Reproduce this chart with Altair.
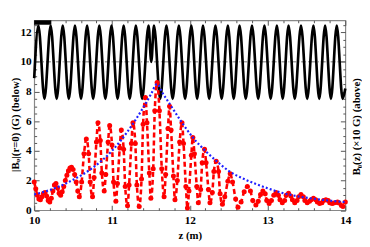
import altair as alt
import pandas as pd

# ---------------- data ----------------
# black: B0(z) (x10 G), extrema of the guide field
black_z = [10.000, 10.054, 10.132, 10.211, 10.289, 10.367, 10.445, 10.524, 10.602, 10.680,
           10.758, 10.837, 10.915, 10.994, 11.072, 11.150, 11.228, 11.307, 11.388, 11.470,
           11.505, 11.540, 11.620, 11.700, 11.780, 11.860, 11.940, 12.020, 12.095, 12.170,
           12.250, 12.330, 12.410, 12.490, 12.565, 12.640, 12.720, 12.800, 12.880, 12.960,
           13.040, 13.120, 13.195, 13.270, 13.350, 13.430, 13.510, 13.590, 13.665, 13.740,
           13.815, 13.890, 13.965, 14.000]
black_b = [8.9, 12.45, 7.5, 12.45, 7.5, 12.45, 7.5, 12.45, 7.5, 12.45,
           7.5, 12.45, 7.5, 12.45, 7.5, 12.45, 7.5, 12.45, 7.5, 12.45,
           10.0, 12.45, 7.5, 12.45, 7.5, 12.45, 7.5, 12.45, 7.5, 12.45,
           7.5, 12.45, 7.5, 12.45, 7.5, 12.45, 7.5, 12.45, 7.5, 12.45,
           7.5, 12.45, 7.5, 12.45, 7.5, 12.45, 7.5, 12.45, 7.5, 12.45,
           7.5, 12.45, 7.5, 8.2]

# red: |B_phi|(r=0) (G), sampled points
red_z = [10.00, 10.02, 10.04, 10.06, 10.08, 10.10, 10.12, 10.14, 10.16, 10.18,
         10.20, 10.22, 10.24, 10.26, 10.28, 10.30, 10.32, 10.34, 10.36, 10.38,
         10.40, 10.42, 10.44, 10.46, 10.48, 10.50, 10.52, 10.54, 10.56,
         10.58, 10.61, 10.64, 10.67, 10.70, 10.72, 10.75, 10.77, 10.80, 10.82,
         10.85, 10.87, 10.90, 10.92, 10.95, 10.97, 11.00, 11.02, 11.05, 11.07,
         11.10, 11.12, 11.15, 11.17, 11.20, 11.22, 11.25, 11.27, 11.30, 11.32,
         11.35, 11.38, 11.40, 11.43, 11.45, 11.48, 11.50, 11.53, 11.55, 11.58,
         11.61, 11.64, 11.67, 11.69, 11.72, 11.74, 11.76, 11.79, 11.81, 11.84,
         11.87, 11.90, 11.92, 11.95, 11.97, 11.99, 12.02, 12.04, 12.06, 12.09,
         12.11, 12.14, 12.16, 12.19, 12.21, 12.24, 12.26, 12.29, 12.31, 12.34,
         12.37, 12.39, 12.42, 12.45, 12.49, 12.52, 12.55, 12.59, 12.62, 12.66,
         12.70,
         12.74, 12.78, 12.81, 12.85, 12.88, 12.91, 12.94, 12.97, 12.99, 13.02,
         13.05, 13.08, 13.11, 13.14, 13.16, 13.19, 13.22, 13.24, 13.27, 13.30,
         13.32, 13.35, 13.38, 13.40, 13.43, 13.46, 13.48, 13.51, 13.54, 13.56,
         13.59, 13.62, 13.64, 13.67, 13.70, 13.72, 13.75, 13.78, 13.80, 13.83,
         13.85, 13.88, 13.90, 13.92, 13.95, 13.97, 14.00]
red_b = [1.9, 1.45, 1.0, 0.75, 0.7, 0.9, 1.15, 1.2, 0.95, 0.65,
         0.55, 0.8, 1.3, 1.7, 1.8, 1.5, 1.15, 1.0, 1.25, 1.6,
         2.0, 2.35, 2.65, 2.85, 2.9, 2.75, 2.4, 1.9, 1.3,
         0.9, 1.9, 3.8, 4.8, 3.8, 1.9, 0.9, 2.2, 4.6, 5.9,
         4.7, 2.5, 1.3, 2.4, 4.6, 5.7, 4.4, 1.9, 0.6, 1.8,
         4.2, 5.4, 4.1, 1.6, 0.3, 1.7, 4.5, 5.9, 4.5, 1.7,
         0.25, 2.1, 5.8, 7.6, 5.9, 2.5, 0.8, 2.8, 6.7, 8.6,
         6.7, 2.8, 0.9, 2.4, 5.5, 7.0, 5.4, 2.3, 0.7, 2.0,
         4.6, 5.9, 4.5, 1.6, 0.15, 1.3, 3.7, 4.9, 3.8, 1.6,
         0.5, 1.4, 3.2, 4.1, 3.2, 1.4, 0.5, 1.2, 2.6, 3.3,
         2.6, 1.1, 0.4, 0.9, 1.95, 2.45, 1.9, 0.75, 0.2, 0.55,
         1.25,
         1.6, 1.3, 0.65, 0.35, 0.6, 1.05, 1.3, 1.1, 0.65, 0.45,
         0.65, 1.0, 1.2, 1.0, 0.7, 0.5, 0.65, 1.0, 1.15, 0.95,
         0.7, 0.5, 0.65, 0.9, 1.05, 0.9, 0.65, 0.5, 0.6, 0.7,
         0.8, 0.7, 0.55, 0.45, 0.5, 0.65, 0.7, 0.65, 0.5, 0.45,
         0.48, 0.52, 0.55, 0.48, 0.32, 0.25, 0.55]

# blue: envelope
blue_z = [10.0, 10.25, 10.5, 10.75, 11.0, 11.2, 11.4, 11.5, 11.58, 11.65, 11.75, 11.9,
          12.04, 12.2, 12.34, 12.5, 12.7, 13.0, 13.2, 13.43, 13.7, 14.0]
blue_b = [1.06, 1.45, 2.05, 2.85, 4.0, 5.3, 6.9, 7.8, 8.5, 7.9, 7.1, 5.9,
          4.9, 4.0, 3.33, 2.65, 2.1, 1.48, 1.15, 0.9, 0.7, 0.55]

# black marker bar at the top left
bar_z, bar_z2 = [10.0], [10.22]
bar_y, bar_y2 = [12.5], [12.8]
center_level = [10]

x_major = [10, 11, 12, 13, 14]
x_minor = [10.2, 10.4, 10.6, 10.8, 11.2, 11.4, 11.6, 11.8, 12.2, 12.4, 12.6, 12.8,
           13.2, 13.4, 13.6, 13.8]
y_major = [0, 2, 4, 6, 8, 10, 12]
y_minor = [0.5, 1, 1.5, 2.5, 3, 3.5, 4.5, 5, 5.5, 6.5, 7, 7.5, 8.5, 9, 9.5,
           10.5, 11, 11.5, 12.5]

# ---------------- chart ----------------
FONT = "Liberation Serif"
XS = alt.Scale(domain=[10, 14], nice=False, zero=False)
YS = alt.Scale(domain=[0, 12.8], nice=False, zero=False)

black_df = pd.DataFrame({"z": black_z, "b": black_b})
red_df = pd.DataFrame({"z": red_z, "b": red_b})
blue_df = pd.DataFrame({"z": blue_z, "b": blue_b})
bar_df = pd.DataFrame({"z": bar_z, "z2": bar_z2, "y": bar_y, "y2": bar_y2})
lvl_df = pd.DataFrame({"y": center_level})


def tick_axis(orient, values, size):
    return alt.Axis(orient=orient, values=values, labels=False, domain=False, ticks=True,
                    tickSize=size, offset=-size, tickColor="#555", tickWidth=1,
                    grid=False, title="")


lbl_x = alt.Axis(orient="bottom", values=x_major, ticks=False, tickSize=0, domain=False,
                 labelFont=FONT, labelFontWeight="bold", labelFontSize=11.5, labelColor="black",
                 labelPadding=4.5, labelFlush=False, title="z (m)", titleFont=FONT,
                 titleFontWeight="bold", titleFontSize=11, titlePadding=3.5,
                 titleColor="black", grid=False)
lbl_y = alt.Axis(orient="left", values=y_major, ticks=False, tickSize=0, domain=False,
                 labelFont=FONT, labelFontWeight="bold", labelFontSize=11.5, labelColor="black",
                 labelPadding=3, labelFlush=False, title="|Bᵩ|(r=0) (G) (below)",
                 titleFont=FONT, titleFontWeight="bold", titleFontSize=11, titlePadding=0,
                 titleY=106, titleColor="black", grid=False)
ttl_y2 = alt.Axis(orient="right", values=y_major, ticks=False, tickSize=0, labels=False,
                  domain=False, title="B₀(z) (×10 G) (above)", titleFont=FONT,
                  titleFontWeight="bold", titleFontSize=11, titlePadding=5,
                  titleAngle=270, titleBaseline="top", titleY=108, titleColor="black",
                  grid=False)

black = alt.Chart(black_df).mark_line(color="black", strokeWidth=2.7,
                                      interpolate="monotone").encode(
    x=alt.X("z:Q", scale=XS, axis=lbl_x),
    y=alt.Y("b:Q", scale=YS, axis=lbl_y),
)

bar = alt.Chart(bar_df).mark_rect(color="black").encode(
    x=alt.X("z:Q", scale=XS, axis=tick_axis("bottom", x_major, 5)),
    x2="z2:Q",
    y=alt.Y("y:Q", scale=YS, axis=tick_axis("left", y_major, 5)),
    y2="y2:Q",
)

red_line = alt.Chart(red_df).mark_line(color="#ff0000", strokeWidth=2.6, strokeDash=[5, 3],
                                       interpolate="monotone").encode(
    x=alt.X("z:Q", scale=XS, axis=tick_axis("bottom", x_minor, 2.5)),
    y=alt.Y("b:Q", scale=YS, axis=tick_axis("left", y_minor, 2.5)),
)

red_pts = alt.Chart(red_df).mark_circle(color="#ff0000", size=26, opacity=1).encode(
    x=alt.X("z:Q", scale=XS, axis=tick_axis("top", x_major, 5)),
    y=alt.Y("b:Q", scale=YS, axis=tick_axis("right", y_major, 5)),
)

blue = alt.Chart(blue_df).mark_line(color="#1f1fff", strokeWidth=2.2, strokeDash=[2, 2.2],
                                    interpolate="monotone").encode(
    x=alt.X("z:Q", scale=XS, axis=tick_axis("top", x_minor, 2.5)),
    y=alt.Y("b:Q", scale=YS, axis=tick_axis("right", y_minor, 2.5)),
)

level = alt.Chart(lvl_df).mark_rule(color="#555", strokeWidth=0.8, strokeDash=[5, 2, 1, 2]).encode(
    y=alt.Y("y:Q", scale=YS, axis=ttl_y2),
)

chart = alt.layer(level, black, red_line, red_pts, blue, bar).resolve_axis(
    x="independent", y="independent"
).properties(
    width=317, height=193.5,
    autosize=alt.AutoSizeParams(type="none"),
    padding={"left": 26.7, "top": 10.3, "right": 17, "bottom": 31},
).configure_view(stroke="#888", strokeWidth=1.2)

chart.save("out.html", embed_options={"renderer": "svg", "actions": False})
